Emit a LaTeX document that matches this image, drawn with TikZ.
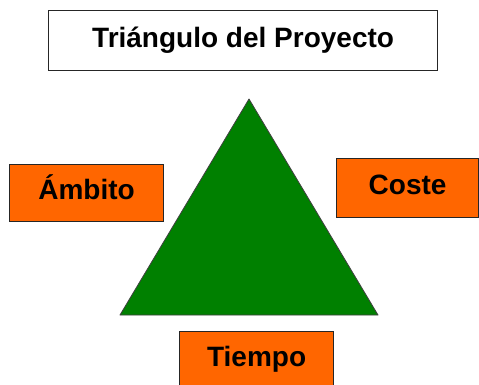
\documentclass[tikz,border=0pt]{standalone}
\usepackage{fontspec}
\setmainfont{Liberation Sans}
\definecolor{boxorange}{HTML}{FF6600}
\definecolor{trigreen}{HTML}{008000}
\begin{document}
\begin{tikzpicture}[x=1pt,y=-1pt,
  labelbox/.style={draw=black!85, line width=1.2pt, inner sep=0pt, anchor=north west,
    font=\fontsize{28}{30}\selectfont\bfseries, text height=20pt, text depth=7pt, align=center},
  orangebox/.style={labelbox, fill=boxorange}]
\useasboundingbox (0,0) rectangle (479,385);
\fill[white] (0,0) rectangle (479,385);
\node[labelbox, fill=white, minimum width=389pt, minimum height=60pt] (title) at (48,10) {Triángulo del Proyecto};
\node[orangebox, minimum width=154pt, minimum height=57pt] (ambito) at (9,164) {Ámbito};
\node[orangebox, minimum width=142pt, minimum height=59pt] (coste) at (336,158) {Coste};
\node[orangebox, minimum width=154pt, minimum height=62pt, text depth=12pt] (tiempo) at (179,331) {Tiempo};
\coordinate (apex) at (249,99);
\coordinate (bl) at (120,315);
\coordinate (br) at (378,315);
\filldraw[fill=trigreen, draw=black!75, line width=0.8pt, line join=round] (apex) -- (bl) -- (br) -- cycle;
\end{tikzpicture}
\end{document}
